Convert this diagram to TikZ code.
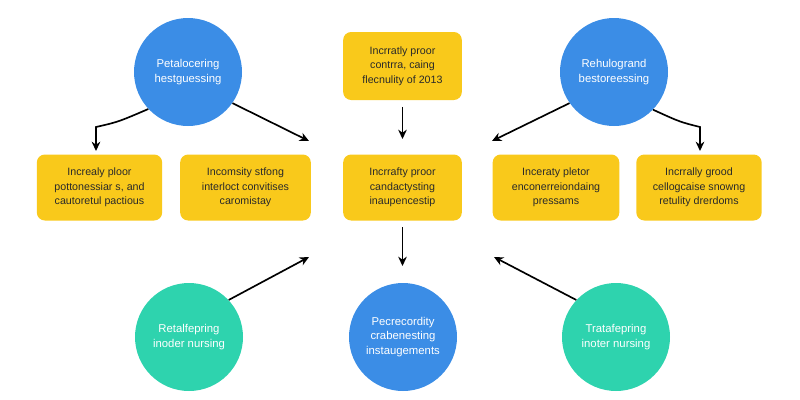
\documentclass[tikz,border=0pt]{standalone}
\usepackage{fontspec}
\setmainfont{Liberation Sans}
\usetikzlibrary{arrows.meta}
\definecolor{boxyellow}{HTML}{F9C91B}
\definecolor{dotblue}{HTML}{3B8DE6}
\definecolor{dotteal}{HTML}{2ED3AE}
\definecolor{inktext}{HTML}{2A2A2A}

\begin{document}
\begin{tikzpicture}[x=0.75pt,y=-0.75pt,
        box/.style={fill=boxyellow, rounded corners=6pt, minimum height=49.5pt, align=center,
            text=inktext, font=\fontsize{8}{10.8}\selectfont, inner sep=0pt},
        dot/.style={circle, minimum size=81pt, align=center, text=white, inner sep=0pt,
            font=\fontsize{8.5}{11.2}\selectfont},
        link/.style={line width=1.25pt, -{Stealth[length=7pt,width=6.5pt]}}]
    \useasboundingbox (0,0) rectangle (800,400);
        \draw (188,72) node[dot, fill=dotblue](petal){Petalocering\\hestguessing};
        \draw (614,72) node[dot, fill=dotblue](rehul){Rehulogrand\\bestoreessing};
        \draw (402.5,66) node[box, minimum width=89pt, minimum height=51pt](topbox){Incrratly proor\\contrra, caing\\flecnulity of 2013};
        \draw (99.5,187.5) node[box, minimum width=94pt](boxa){Increaly ploor\\pottonessiar s, and\\cautoretul pactious};
        \draw (245.5,187.5) node[box, minimum width=98pt](boxb){Incomsity stfong\\interloct convitises\\caromistay};
        \draw (402.5,187.5) node[box, minimum width=89pt](boxc){Incrrafty proor\\candactysting\\inaupencestip};
        \draw (556,187.5) node[box, minimum width=95pt](boxd){Inceraty pletor\\enconerreiondaing\\pressams};
        \draw (699,187.5) node[box, minimum width=94pt](boxe){Incrrally grood\\cellogcaise snowng\\retulity drerdoms};
        \draw (189,337) node[dot, fill=dotteal](retal){Retalfepring\\inoder nursing};
        \draw (403,337) node[dot, fill=dotblue](pecre){Pecrecordity\\crabenesting\\instaugements};
        \draw (616,337) node[dot, fill=dotteal](trata){Tratafepring\\inoter nursing};
        \coordinate (ina) at (96,151);
        \coordinate (inb) at (309,141);
        \coordinate (inc) at (402.5,139);
        \coordinate (ind) at (492,141);
        \coordinate (ine) at (700,151);
        \coordinate (outc) at (402.5,266);
        \coordinate (upl) at (309,257);
        \coordinate (upr) at (494,257);
        \draw[link] (petal.223) .. controls (118,122) .. (96,127) -- (ina);
        \draw[link] (petal.-35) -- (inb);
        \draw[link, shorten <=5pt] (topbox.south) -- (inc);
        \draw[link] (rehul.215) -- (ind);
        \draw[link] (rehul.-44) .. controls (680,122) .. (700,127) -- (ine);
        \draw[link, shorten <=5pt] (boxc.south) -- (outc);
        \draw[link] (retal.43) -- (upl);
        \draw[link] (trata.137) -- (upr);
\end{tikzpicture}
\end{document}
